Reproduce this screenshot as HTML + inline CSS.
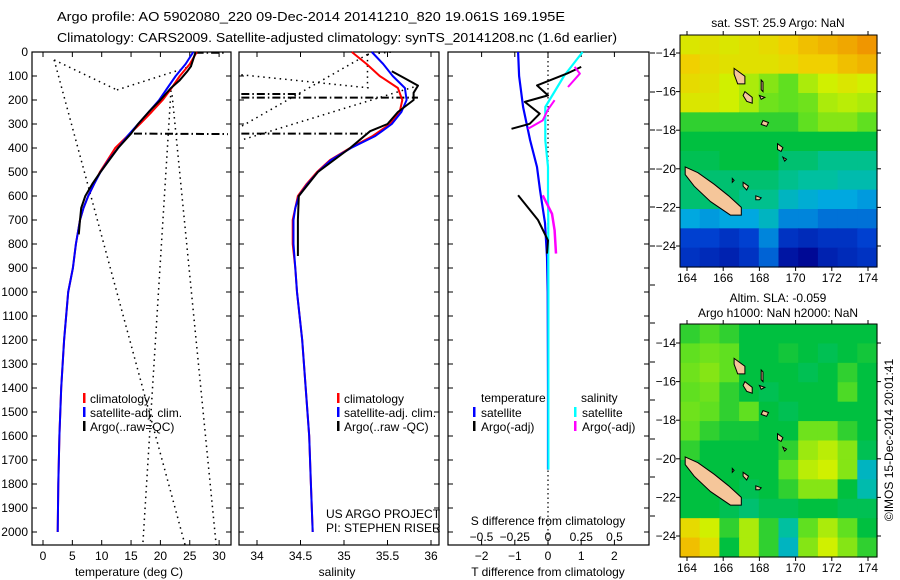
<!DOCTYPE html>
<html><head><meta charset="utf-8"><style>
html,body{margin:0;padding:0;background:#fff;}
svg{display:block;font-family:"Liberation Sans",sans-serif;}
</style></head><body>
<svg id="chart" width="900" height="580" viewBox="0 0 900 580" xmlns="http://www.w3.org/2000/svg">
<text x="57" y="21" font-size="13" textLength="508" lengthAdjust="spacingAndGlyphs">Argo profile: AO 5902080_220 09-Dec-2014 20141210_820 19.061S 169.195E</text>
<text x="57" y="42" font-size="13" textLength="560" lengthAdjust="spacingAndGlyphs">Climatology: CARS2009. Satellite-adjusted climatology: synTS_20141208.nc (1.6d earlier)</text>
<g id="g"></g>
</svg>
<script>
// ---- depth axis
const depthTicks=[0,100,200,300,400,500,600,700,800,900,1000,1100,1200,1300,1400,1500,1600,1700,1800,1900,2000];
// ---- temperature panel data
const tempTicks=[0,5,10,15,20,25,30];
const climDepth=[0,50,100,150,200,250,300,350,400,450,500,550,600,650,700,800,900,1000,1200,1400,1600,1800,2000];
const climTemp=[26.2,25,23.3,21.9,20.4,18.5,16.5,14.4,12.3,11,9.7,8.7,7.7,6.9,6.3,5.6,5.1,4.3,3.6,3.1,2.8,2.6,2.5];
const satTemp=[25.6,24.3,22.6,21.2,19.8,18,16.2,14.4,12.8,11.2,9.8,8.7,7.7,6.9,6.3,5.6,5.1,4.3,3.6,3.1,2.8,2.6,2.5];
const argoDepth=[0,30,60,80,120,150,200,250,300,330,340,400,500,550,600,650,700,760];
const argoTemp=[26,25.6,25.2,24.6,23.2,21.8,20,18,16.2,15.3,15,12.8,9.8,8.4,7.2,6.5,6.3,6.1];
// ---- salinity panel data
const salTicks=[34,34.5,35,35.5,36];
const salDepth=[0,50,100,150,200,250,300,350,400,450,500,550,600,650,700,800,900,1000,1200,1400,1600,1800,2000];
const climSal=[35.09,35.26,35.41,35.62,35.67,35.64,35.53,35.33,35.07,34.84,34.69,34.57,34.47,34.44,34.41,34.41,34.44,34.46,34.52,34.56,34.6,34.62,34.64];
const satSal=[35.32,35.45,35.56,35.7,35.72,35.66,35.55,35.36,35.08,34.85,34.7,34.58,34.48,34.44,34.42,34.42,34.44,34.46,34.52,34.56,34.6,34.62,34.64];
const argoSalDepth=[80,110,140,170,200,250,300,330,400,500,600,700,850];
const argoSal=[35.55,35.7,35.85,35.8,35.8,35.62,35.5,35.3,35.07,34.7,34.48,34.47,34.47];
// ---- difference panel data
const diffTTicks=[-2,-1,0,1,2];
const diffSTicks=[-0.5,-0.25,0,0.25,0.5];
const satDiffDepth=[0,100,229,367,479,575,712,854,1000,1400,1740];
const satDiffT=[-0.9,-0.87,-0.75,-0.54,-0.33,-0.24,-0.09,-0.03,-0.01,0,0];
const satDiffS=[0.26,0.12,-0.02,-0.02,0,0,0.002,0.002,0.003,0.003,0.003];
const argoDiffDepth=[62,90,139,181,208,257,299,320,597,700,785,840];
const argoDiffT=[1.0,0.57,-0.33,0,-0.7,-0.25,-0.55,-1.1,-0.9,-0.3,0,-0.03];
const argoDiffSDepth=[62,90,146,201,240,285,320,597,674,743,840];
const argoDiffS=[0.2,0.24,0.15,0.05,0.0,-0.04,-0.15,-0.04,0.03,0.05,0.06];
// ---- maps
const mapLonTicks=[164,166,168,170,172,174];
const mapLatTicks=[-14,-16,-18,-20,-22,-24];
const sstGrid=[
[.78,.8,.78,.8,.82,.85,.88,.9,.92,.95],
[.85,.82,.8,.8,.8,.82,.85,.85,.88,.9],
[.82,.8,.75,.7,.65,.6,.7,.75,.78,.75],
[.78,.78,.75,.7,.62,.6,.62,.7,.72,.7],
[.55,.55,.55,.55,.55,.55,.6,.65,.65,.6],
[.5,.5,.5,.5,.5,.5,.5,.5,.5,.5],
[.48,.48,.5,.5,.5,.45,.45,.42,.42,.42],
[.45,.45,.45,.45,.45,.42,.4,.4,.38,.38],
[.45,.45,.45,.42,.42,.35,.32,.3,.3,.28],
[.3,.28,.3,.3,.35,.25,.25,.22,.22,.22],
[.15,.15,.12,.15,.25,.12,.1,.12,.12,.15],
[.12,.1,.08,.12,.2,.05,.02,.08,.1,.12]];
const slaGrid=[
[.55,.58,.55,.5,.5,.5,.5,.5,.5,.5],
[.6,.62,.6,.5,.5,.52,.5,.48,.5,.52],
[.62,.65,.6,.5,.5,.5,.48,.5,.55,.5],
[.6,.62,.55,.5,.48,.5,.5,.5,.58,.5],
[.62,.6,.55,.6,.5,.48,.5,.5,.5,.5],
[.6,.55,.52,.52,.5,.5,.62,.62,.55,.5],
[.55,.5,.5,.5,.5,.55,.68,.72,.65,.48],
[.5,.5,.5,.5,.5,.6,.72,.75,.65,.35],
[.5,.5,.5,.48,.5,.55,.65,.65,.5,.38],
[.5,.5,.48,.45,.48,.48,.5,.5,.48,.48],
[.82,.75,.55,.7,.55,.4,.6,.7,.6,.5],
[.88,.8,.5,.7,.55,.35,.65,.75,.65,.55]];
const islandNewCal=[[163.9,-19.9],[164.6,-20.2],[165.5,-20.8],[166.3,-21.4],[167.0,-22.0],[167.0,-22.4],[166.4,-22.4],[165.3,-21.7],[164.4,-20.9],[163.9,-20.3]];
const islandSanto=[[166.6,-14.8],[167.2,-15.2],[167.2,-15.6],[166.8,-15.6],[166.6,-15.1]];
const islandMalekula=[[167.2,-16],[167.6,-16.3],[167.6,-16.6],[167.3,-16.5],[167.1,-16.2]];
const islandEfate=[[168.2,-17.5],[168.5,-17.6],[168.4,-17.8],[168.1,-17.7]];
const islandErro=[[169,-18.7],[169.3,-18.9],[169.2,-19.1],[169,-19]];
const islandTanna=[[169.3,-19.4],[169.5,-19.5],[169.4,-19.6]];
const islandLifou=[[167.1,-20.7],[167.4,-20.9],[167.3,-21.1],[167.1,-20.9]];
const islandMare=[[167.8,-21.4],[168.1,-21.5],[168,-21.6],[167.8,-21.6]];
const islandPentecost=[[168.1,-15.4],[168.2,-15.5],[168.2,-16],[168.1,-15.9]];
const islandAmbrym=[[168,-16.2],[168.3,-16.3],[168.1,-16.4]];
const islandOuvea=[[166.5,-20.5],[166.6,-20.6],[166.5,-20.7]];
const islands=[islandNewCal,islandSanto,islandMalekula,islandEfate,islandErro,islandTanna,islandLifou,islandMare,islandPentecost,islandAmbrym,islandOuvea];

const NS='http://www.w3.org/2000/svg';
const G=document.getElementById('g');
function mk(tag,attrs,parent){const e=document.createElementNS(NS,tag);for(const k in attrs)e.setAttribute(k,attrs[k]);(parent||G).appendChild(e);return e;}
function txt(s,x,y,anchor,size,name){const t=mk('text',{x:x,y:y,'text-anchor':anchor||'start','font-size':size||12});t.textContent=s;


return t;}
const TOP=52,BOT=545;
const yD=d=>TOP+d*0.24;
const xT=t=>43+t*5.87;
const xS=s=>257+(s-34)*87;
const xDT=t=>548+t*33.2;
const xDS=s=>548+s*133;
function poly(xs,ds,fx,color,w,name,dash){
  let p=xs.map((v,i)=>fx(v).toFixed(1)+','+yD(ds[i]).toFixed(1)).join(' ');
  const e=mk('polyline',{points:p,fill:'none',stroke:color,'stroke-width':w,'stroke-linejoin':'round'});
  if(dash)e.setAttribute('stroke-dasharray',dash);
  
  
  return e;
}
function segLine(x1,y1,x2,y2,dash,w,name){const e=mk('line',{x1:x1,y1:y1,x2:x2,y2:y2,stroke:'#000','stroke-width':w||1.3,'stroke-dasharray':dash});

}
function panel(x0,x1,name){
  const r=mk('rect',{x:x0,y:TOP,width:x1-x0,height:BOT-TOP,fill:'none',stroke:'#000','stroke-width':1.2});
  
  
  depthTicks.forEach(d=>{mk('line',{x1:x0,x2:x0+5,y1:yD(d),y2:yD(d),stroke:'#000'});mk('line',{x1:x1-5,x2:x1,y1:yD(d),y2:yD(d),stroke:'#000'});});
}
depthTicks.forEach(d=>txt(String(d),28,yD(d)+4,'end',12,'y-tick-label-'+d));
// panel 1
panel(32,231,'temperature-panel');
tempTicks.forEach(t=>{mk('line',{x1:xT(t),x2:xT(t),y1:TOP,y2:TOP+5,stroke:'#000'});mk('line',{x1:xT(t),x2:xT(t),y1:BOT-5,y2:BOT,stroke:'#000'});txt(String(t),xT(t),560,'middle',12,'x-tick-temp-'+t);});
txt('temperature (deg C)',129,576,'middle',12,'x-axis-title-temperature');
segLine(xT(1.9),yD(33),xT(12.6),yD(158),'1.5,4',1.5,'temp-range-dotted-1');
segLine(xT(12.6),yD(158),xT(25.9),yD(54),'1.5,4',1.5,'temp-range-dotted-2');
segLine(xT(1.9),yD(33),xT(24.2),yD(2054),'1.5,4',1.5,'temp-range-dotted-3');
segLine(xT(21.8),yD(160),xT(17),yD(2054),'1.5,4',1.5,'temp-range-dotted-4');
segLine(xT(22),yD(180),xT(29.5),yD(2054),'1.5,4',1.5,'temp-range-dotted-5');
segLine(xT(15.5),yD(340),xT(31.5),yD(342),'8,3,1.5,3',2,'temp-dashdot-340');
segLine(xT(26),yD(3),xT(31),yD(3),'8,3,1.5,3',2,'temp-dashdot-surface');
poly(climTemp,climDepth,xT,'#f00',2,'temp-climatology-line');
poly(satTemp,climDepth,xT,'#00f',2,'temp-satellite-line');
poly(argoTemp,argoDepth,xT,'#000',2,'temp-argo-line');
[['#f00','climatology'],['#00f','satellite-adj. clim.'],['#000','Argo(..raw=QC)']].forEach((l,i)=>{
  const y=398+i*14; const r=mk('rect',{x:83,y:y-5,width:2.5,height:10,fill:l[0]});
  
  
  txt(l[1],90,y+5,'start',12,'temp-legend-label-'+i);});
// panel 2
panel(239,439,'salinity-panel');
salTicks.forEach(s=>{mk('line',{x1:xS(s),x2:xS(s),y1:TOP,y2:TOP+5,stroke:'#000'});mk('line',{x1:xS(s),x2:xS(s),y1:BOT-5,y2:BOT,stroke:'#000'});txt(String(s),xS(s),560,'middle',12,'x-tick-sal-'+s);});
txt('salinity',337,576,'middle',12,'x-axis-title-salinity');
segLine(xS(33.82),yD(95),xS(35.3),yD(150),'1.5,4',1.5,'sal-range-dotted-1');
segLine(xS(35.27),yD(10),xS(33.82),yD(310),'1.5,4',1.5,'sal-range-dotted-2');
segLine(xS(35.8),yD(146),xS(33.82),yD(367),'1.5,4',1.5,'sal-range-dotted-3');
segLine(xS(35.27),yD(10),xS(35.27),yD(150),'1.5,4',1.5,'sal-range-dotted-4');
segLine(xS(35.27),yD(10),xS(35.55),yD(0),'1.5,4',1.5,'sal-range-dotted-5');
segLine(xS(33.82),yD(175),xS(34.5),yD(175),'8,3,1.5,3',2,'sal-dashdot-175');
segLine(xS(33.82),yD(190),xS(35.85),yD(190),'8,3,1.5,3',2,'sal-dashdot-190');
segLine(xS(33.82),yD(340),xS(35.25),yD(340),'8,3,1.5,3',2,'sal-dashdot-340');
poly(climSal,salDepth,xS,'#f00',2,'sal-climatology-line');
poly(satSal,salDepth,xS,'#00f',2,'sal-satellite-line');
poly(argoSal,argoSalDepth,xS,'#000',2,'sal-argo-line');
[['#f00','climatology'],['#00f','satellite-adj. clim.'],['#000','Argo(..raw -QC)']].forEach((l,i)=>{
  const y=398+i*14; const r=mk('rect',{x:337,y:y-5,width:2.5,height:10,fill:l[0]});
  
  
  txt(l[1],344,y+5,'start',12,'sal-legend-label-'+i);});
txt('US ARGO PROJECT',326,518,'start',12,'project-label');
txt('PI: STEPHEN RISER',326,532,'start',12,'pi-label');
// panel 3
panel(448,649,'difference-panel');
diffTTicks.forEach(t=>{mk('line',{x1:xDT(t),x2:xDT(t),y1:TOP,y2:TOP+5,stroke:'#000'});mk('line',{x1:xDT(t),x2:xDT(t),y1:BOT-5,y2:BOT,stroke:'#000'});txt(String(t).replace(/^-/,'\u2212'),xDT(t),560,'middle',12,'x-tick-dT-'+t);});
diffSTicks.forEach(s=>{txt(String(s).replace(/^-/,'\u2212'),xDS(s),541,'middle',12,'x-tick-dS-'+s);});
txt('S difference from climatology',548,525,'middle',12,'s-diff-axis-title');
txt('T difference from climatology',548,576,'middle',12,'t-diff-axis-title');
[53,92,130,169,207,246,285,323,362,400,439,477,516].forEach(y=>mk('line',{x1:650,x2:655,y1:y,y2:y,stroke:'#000'}));
segLine(548,TOP,548,BOT,'1.5,3',1.2,'zero-diff-dotted');
poly(satDiffT,satDiffDepth,xDT,'#00f',2.2,'dT-satellite-line');
poly(satDiffS,satDiffDepth,xDS,'#0ff',2.2,'dS-satellite-line');
poly(argoDiffT.slice(0,8),argoDiffDepth.slice(0,8),xDT,'#000',2,'dT-argo-line-upper');
poly(argoDiffT.slice(8),argoDiffDepth.slice(8),xDT,'#000',2,'dT-argo-line-lower');
poly(argoDiffS.slice(0,3),argoDiffSDepth.slice(0,3),xDS,'#f0f',2,'dS-argo-line-1');
poly(argoDiffS.slice(3,7),argoDiffSDepth.slice(3,7),xDS,'#f0f',2,'dS-argo-line-2');
poly(argoDiffS.slice(7),argoDiffSDepth.slice(7),xDS,'#f0f',2.5,'dS-argo-line-3');
txt('temperature',481,402,'start',12,'diff-legend-temperature-header');
txt('salinity',581,402,'start',12,'diff-legend-salinity-header');
[[473,'#00f','satellite',0],[473,'#000','Argo(-adj)',1],[574,'#0ff','satellite',0],[574,'#f0f','Argo(-adj)',1]].forEach((l,i)=>{
  const y=412+l[3]*14; const r=mk('rect',{x:l[0],y:y-5,width:2.5,height:10,fill:l[1]});
  
  
  txt(l[2],l[0]+8,y+5,'start',12,'diff-legend-label-'+i);});
// maps
function cmap(v){
  const st=[[0,[0,0,140]],[0.15,[0,64,208]],[0.3,[0,168,224]],[0.4,[0,192,160]],[0.5,[0,192,64]],[0.6,[96,224,32]],[0.75,[208,240,0]],[0.85,[240,208,0]],[0.95,[240,150,0]],[1,[240,120,0]]];
  for(let i=1;i<st.length;i++){if(v<=st[i][0]){const a=st[i-1],b=st[i],f=(v-a[0])/(b[0]-a[0]);return 'rgb('+a[1].map((c,k)=>Math.round(c+(b[1][k]-c)*f)).join(',')+')';}}
  return 'rgb(240,120,0)';
}
function drawMap(x0,y0,x1,y1,lat14y,lat24y,grid,name){
  const lonX=l=>687+(l-164)*18.1;
  const k=(lat24y-lat14y)/10;
  const latY=p=>lat14y+(-14-p)*k;
  const gg=mk('g',{});
  
  
  const rows=grid.length,cols=grid[0].length,cw=(x1-x0)/cols,ch=(y1-y0)/rows;
  grid.forEach((row,r)=>row.forEach((v,c)=>{
    const cell=mk('rect',{x:(x0+c*cw).toFixed(2),y:(y0+r*ch).toFixed(2),width:(cw+0.6).toFixed(2),height:(ch+0.6).toFixed(2),fill:cmap(v)},gg);
    
    
  }));
  islands.forEach((isl,i)=>{
    const p=mk('polygon',{points:isl.map(q=>lonX(q[0]).toFixed(1)+','+latY(q[1]).toFixed(1)).join(' '),fill:'#f5c69a',stroke:'#000','stroke-width':1},gg);
    
    
  });
  mk('rect',{x:x0,y:y0,width:x1-x0,height:y1-y0,fill:'none',stroke:'#000','stroke-width':1},gg);
  mapLonTicks.forEach(l=>{mk('line',{x1:lonX(l),x2:lonX(l),y1:y0-4,y2:y0,stroke:'#000'});mk('line',{x1:lonX(l),x2:lonX(l),y1:y1,y2:y1+4,stroke:'#000'});txt(String(l),lonX(l),y1+15,'middle',12,name+'-lon-'+l);});
  mapLatTicks.forEach(p=>{mk('line',{x1:x0-4,x2:x0,y1:latY(p),y2:latY(p),stroke:'#000'});mk('line',{x1:x1,x2:x1+4,y1:latY(p),y2:latY(p),stroke:'#000'});txt(String(p).replace('-','\u2212'),x0-4,latY(p)+4,'end',12,name+'-lat-'+p);});
}
drawMap(680,35,877,267,53,246,sstGrid,'sst-map');
drawMap(680,324,877,557,343,536,slaGrid,'sla-map');
txt('sat. SST: 25.9  Argo: NaN',778,27,'middle',12,'sst-map-title');
txt('Altim. SLA: -0.059',778,302,'middle',12,'sla-map-title');
txt('Argo h1000: NaN h2000: NaN',778,317,'middle',12,'sla-map-subtitle');
const ts=txt('\u00a9IMOS 15-Dec-2014 20:01:41',0,0,'middle',12,'timestamp-label');
ts.setAttribute('transform','translate(893,440) rotate(-90)');
</script>
</body></html>
